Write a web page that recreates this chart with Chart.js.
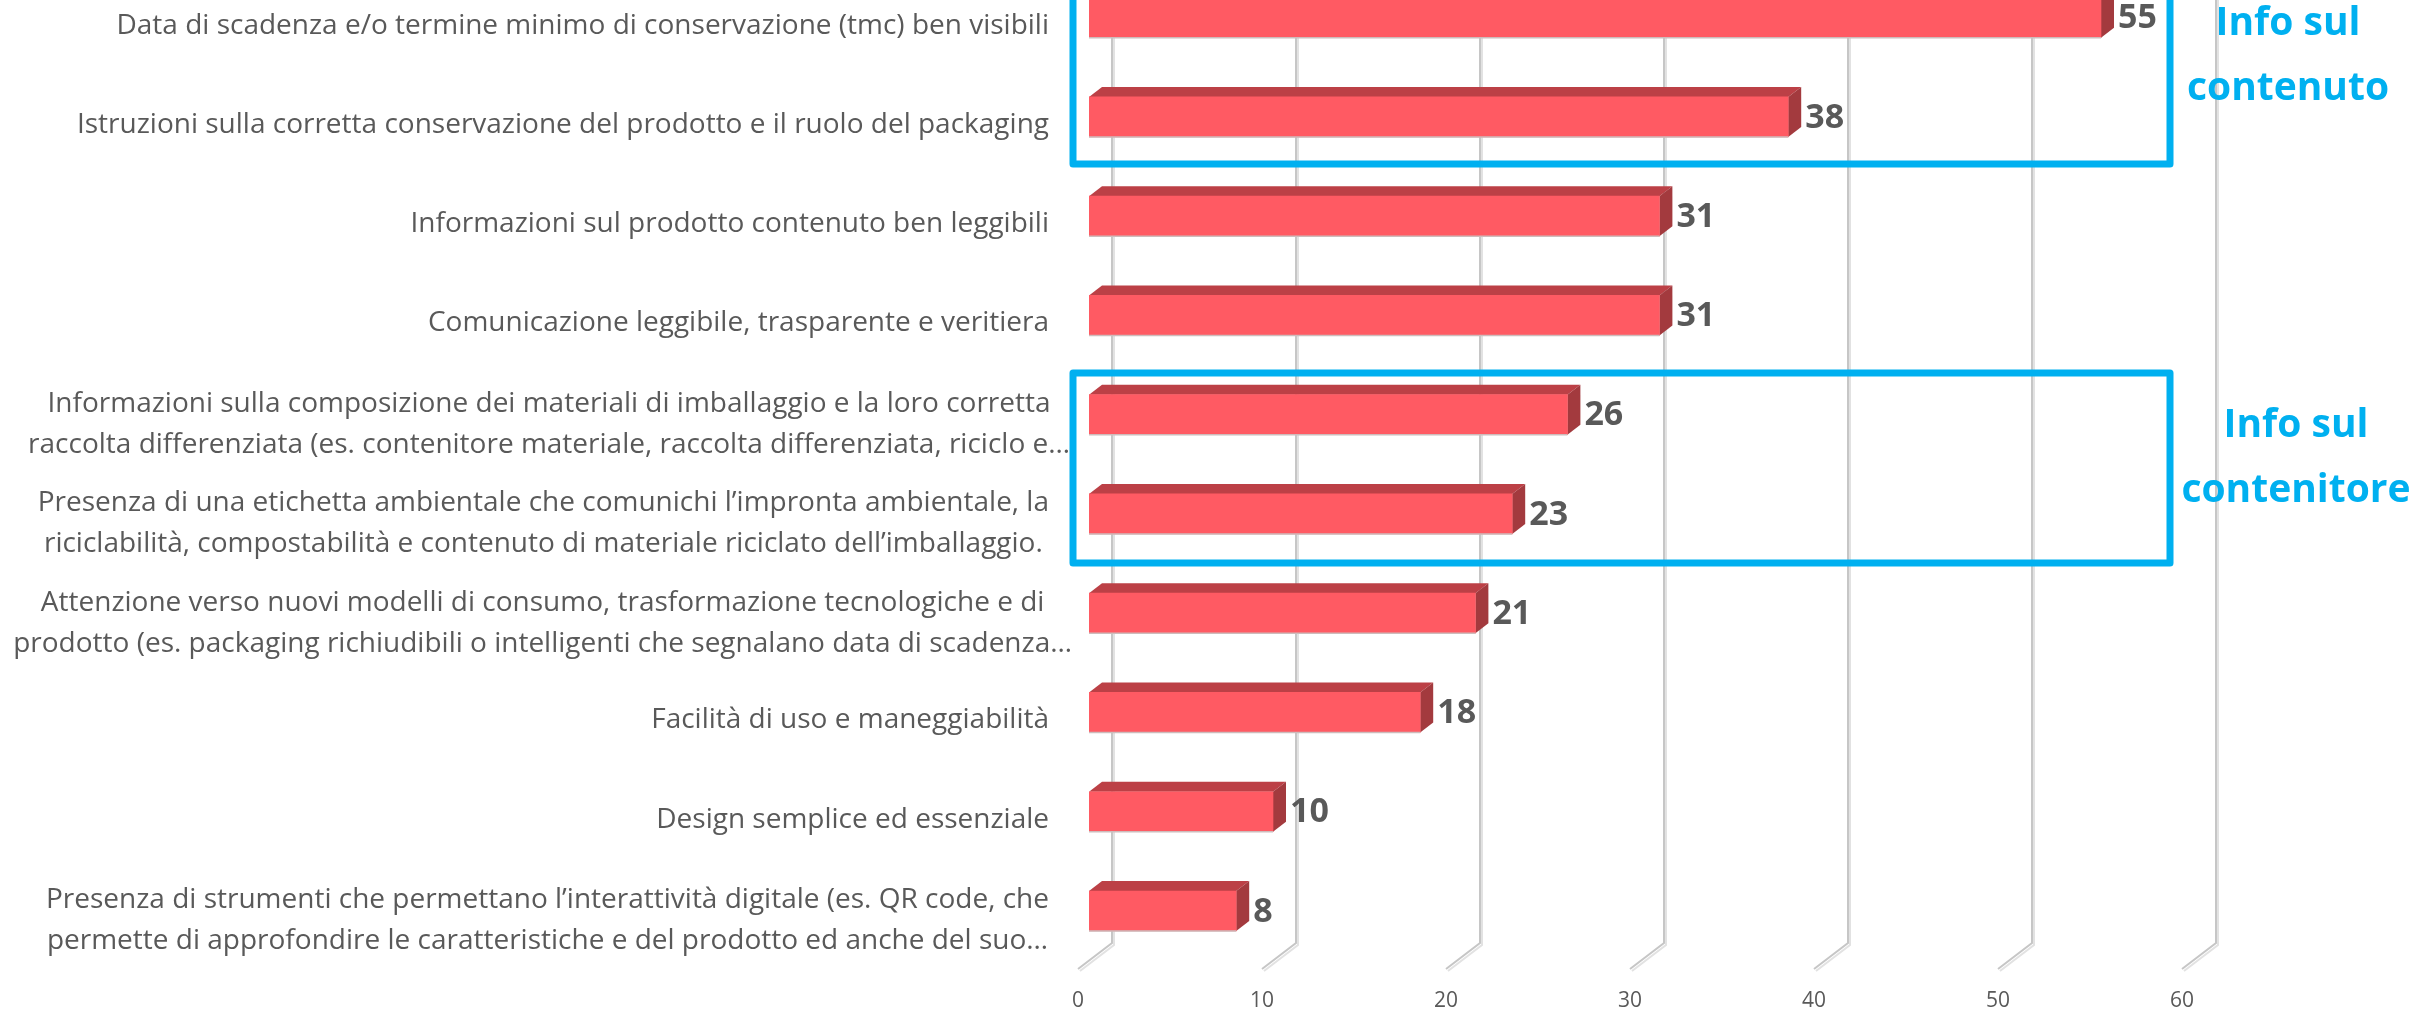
<!DOCTYPE html>
<html>
<head>
<meta charset="utf-8">
<title>Info sul packaging</title>
<script src="https://cdn.jsdelivr.net/npm/chart.js@4"></script>
<style>
  body { margin: 0; background: #ffffff; }
</style>
</head>
<body>
<canvas id="barChart" width="2415" height="1010" style="display:block"></canvas>
<script>
const categories = [
  ['Data di scadenza e/o termine minimo di conservazione (tmc) ben visibili'],
  ['Istruzioni sulla corretta conservazione del prodotto e il ruolo del packaging'],
  ['Informazioni sul prodotto contenuto ben leggibili'],
  ['Comunicazione leggibile, trasparente e veritiera'],
  ['Informazioni sulla composizione dei materiali di imballaggio e la loro corretta',
   'raccolta differenziata (es. contenitore materiale, raccolta differenziata, riciclo e…'],
  ['Presenza di una etichetta ambientale che comunichi l’impronta ambientale, la',
   'riciclabilità, compostabilità e contenuto di materiale riciclato dell’imballaggio.'],
  ['Attenzione verso nuovi modelli di consumo, trasformazione tecnologiche e di',
   'prodotto (es. packaging richiudibili o intelligenti che segnalano data di scadenza…'],
  ['Facilità di uso e maneggiabilità'],
  ['Design semplice ed essenziale'],
  ['Presenza di strumenti che permettano l’interattività digitale (es. QR code, che',
   'permette di approfondire le caratteristiche e del prodotto ed anche del suo…']
];
const values = [55, 38, 31, 31, 26, 23, 21, 18, 10, 8];
const xTicks = [0, 10, 20, 30, 40, 50, 60];

// Blue call-outs on top of the chart
const calloutBoxes = [
  { top: -20, bottom: 164 },
  { top: 373, bottom: 563 }
];
const calloutTexts = [
  { lines: ['Info sul', 'contenuto'], x: 2288, y: 24 },
  { lines: ['Info sul', 'contenitore'], x: 2296, y: 426 }
];

const GREY = '#595959';
const BLUE = '#00B0F0';
const DEPTH_X = 13;
const DEPTH_Y = 10;
const labelRight = { 4: 1070, 6: 1072 }; // the truncated rows run further right
const DEFAULT_LABEL_RIGHT = 1049;

function polygon(ctx, points, color) {
  ctx.fillStyle = color;
  ctx.beginPath();
  points.forEach((p, i) => (i ? ctx.lineTo(p[0], p[1]) : ctx.moveTo(p[0], p[1])));
  ctx.closePath();
  ctx.fill();
}

// The first row is cropped by the top of the picture, so the y axis starts above the canvas
const cropPlugin = {
  id: 'crop',
  afterLayout(chart) {
    const y = chart.scales.y;
    y.top = -32;
    y.height = y.bottom - y.top;
    y.configure();
  }
};

// Fake 3D walls: gridlines sit on the back plane and fold forward at the floor
const wallPlugin = {
  id: 'wall',
  beforeDatasetsDraw(chart) {
    const ctx = chart.ctx;
    const x = chart.scales.x;
    ctx.save();
    xTicks.forEach(tick => {
      const px = x.getPixelForValue(tick) + 23;
      [['#c6c6c6', 0], ['#e2e2e2', 2]].forEach(([color, shift]) => {
        ctx.strokeStyle = color;
        ctx.lineWidth = 2;
        ctx.beginPath();
        ctx.moveTo(px + shift, 0);
        ctx.lineTo(px + shift, 943 + shift);
        ctx.lineTo(px - 34 + shift, 969 + shift);
        ctx.stroke();
      });
    });
    // top and side faces of each bar
    chart.getDatasetMeta(0).data.forEach(bar => {
      const top = bar.y - bar.height / 2;
      const bottom = bar.y + bar.height / 2;
      polygon(ctx, [[bar.base, top], [bar.base + DEPTH_X, top - DEPTH_Y], [bar.x + DEPTH_X, top - DEPTH_Y], [bar.x, top]], '#BC4046');
      polygon(ctx, [[bar.x, top], [bar.x + DEPTH_X, top - DEPTH_Y], [bar.x + DEPTH_X, bottom - DEPTH_Y], [bar.x, bottom]], '#A33A3E');
    });
    ctx.restore();
  },
  afterDatasetsDraw(chart) {
    const ctx = chart.ctx;
    ctx.save();
    chart.getDatasetMeta(0).data.forEach((bar, i) => {
      const bottom = bar.y + bar.height / 2;
      // light edge under the front face
      ctx.strokeStyle = '#cdbcbc';
      ctx.lineWidth = 1.5;
      ctx.beginPath();
      ctx.moveTo(bar.base, bottom);
      ctx.lineTo(bar.x, bottom);
      ctx.stroke();
      // value label
      ctx.fillStyle = GREY;
      ctx.font = 'bold 34px "Open Sans"';
      ctx.textAlign = 'left';
      ctx.textBaseline = 'middle';
      ctx.fillText(String(values[i]), bar.x + DEPTH_X + 4, bar.y + 1);
    });
    ctx.restore();
  }
};

// Category labels: block right aligned, lines centred inside it
const labelPlugin = {
  id: 'rowLabels',
  afterDraw(chart) {
    const ctx = chart.ctx;
    const y = chart.scales.y;
    ctx.save();
    ctx.fillStyle = GREY;
    ctx.font = '28px "Open Sans"';
    ctx.textAlign = 'center';
    ctx.textBaseline = 'middle';
    categories.forEach((lines, i) => {
      const widest = Math.max(...lines.map(line => ctx.measureText(line).width));
      const cx = (labelRight[i] || DEFAULT_LABEL_RIGHT) - widest / 2;
      const cy = y.getPixelForValue(i) + (lines.length > 1 ? 10 : 8);
      lines.forEach((line, n) => {
        ctx.fillText(line, cx, cy + (n - (lines.length - 1) / 2) * 41);
      });
    });
    ctx.restore();
  }
};

const calloutPlugin = {
  id: 'callouts',
  afterDraw(chart) {
    const ctx = chart.ctx;
    ctx.save();
    ctx.strokeStyle = BLUE;
    ctx.lineWidth = 7;
    ctx.lineJoin = 'round';
    calloutBoxes.forEach(box => {
      ctx.strokeRect(1073, box.top, 2170 - 1073, box.bottom - box.top);
    });
    ctx.fillStyle = BLUE;
    ctx.font = 'bold 39px "Open Sans"';
    ctx.textAlign = 'center';
    ctx.textBaseline = 'middle';
    calloutTexts.forEach(t => {
      t.lines.forEach((line, n) => ctx.fillText(line, t.x, t.y + n * 65));
    });
    ctx.restore();
  }
};

new Chart(document.getElementById('barChart').getContext('2d'), {
  type: 'bar',
  data: {
    labels: categories,
    datasets: [{
      data: values,
      backgroundColor: '#FF5A63',
      borderWidth: 0,
      barThickness: 40
    }]
  },
  options: {
    indexAxis: 'y',
    responsive: false,
    animation: false,
    layout: { padding: { left: 1089, right: 222, top: 0, bottom: 0 } },
    plugins: { legend: { display: false }, tooltip: { enabled: false } },
    scales: {
      x: {
        type: 'linear',
        min: 0,
        max: 60,
        afterBuildTicks: scale => { scale.ticks = xTicks.map(value => ({ value })); },
        afterFit: scale => { scale.height = 49.4; },
        grid: { display: false, drawTicks: false },
        border: { display: false },
        ticks: {
          color: GREY,
          font: { family: '"Open Sans"', size: 21 },
          padding: 28,
          labelOffset: -11,
          maxRotation: 0
        }
      },
      y: {
        type: 'category',
        afterFit: scale => { scale.width = 0; },
        grid: { display: false, drawTicks: false },
        border: { display: false },
        ticks: { display: false }
      }
    }
  },
  plugins: [cropPlugin, wallPlugin, labelPlugin, calloutPlugin]
});
</script>
</body>
</html>
